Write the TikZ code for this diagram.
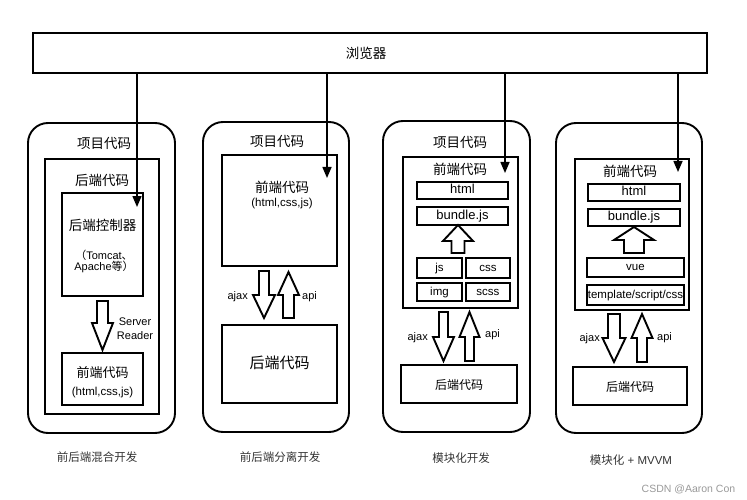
\documentclass[tikz,border=0pt]{standalone}
\usepackage{fontspec}
\setmainfont{Liberation Sans}
\newfontfamily\cjk{Noto Sans CJK SC}
\usetikzlibrary{positioning, arrows.meta}

\definecolor{captxt}{HTML}{333333}
\definecolor{marktxt}{HTML}{999999}

% block arrow: x, tail, head base, tip, shaft half width, head half width
\newcommand{\blkarrow}[6]{%
  \draw[blk] (#1-#5,#2) -- (#1+#5,#2) -- (#1+#5,#3) -- (#1+#6,#3)
    -- (#1,#4) -- (#1-#6,#3) -- (#1-#5,#3) -- cycle;}

\begin{document}
\begin{tikzpicture}[x=1pt, y=-1pt,
    box/.style={draw, line width=1.9pt, inner sep=0pt, align=center},
    panel/.style={draw, line width=1.9pt, rounded corners=20pt},
    flow/.style={-{Triangle[length=11pt,width=9pt]}, line width=1.5pt},
    blk/.style={draw, line width=1.9pt, fill=white, line join=miter},
    zh/.style={inner sep=0pt, font=\cjk\fontsize{13.5}{15}\selectfont},
    txt/.style={inner sep=0pt, align=center, font=\fontsize{11}{11.5}\selectfont},
    code/.style={box, text height=1.6ex, text depth=0.3ex, font=\fontsize{13}{15}\selectfont},
    small/.style={box, text height=1.6ex, text depth=0.3ex, font=\fontsize{11.5}{13}\selectfont},
    caption/.style={inner sep=0pt, text=captxt, font=\fontsize{11.5}{13}\selectfont}]
  \useasboundingbox (0,0) rectangle (747,500);

  % browser
  \node[box, line width=2pt, minimum width=674pt, minimum height=40pt] (browser) at (370,53) {};
  \node[zh] (browserlbl) at (366,53) {浏览器};

  % mixed
  \node[panel, minimum width=147pt, minimum height=310pt] (proj1) at (101.5,278) {};
  \node[zh] (proj1lbl) at (104,143) {项目代码};
  \node[box, minimum width=114pt, minimum height=255pt] (back1) at (102,286.5) {};
  \node[zh] (back1lbl) at (102,180) {后端代码};
  \node[box, minimum width=81pt, minimum height=103pt] (ctrl) at (102.5,244.5) {};
  \node[zh] (ctrllbl) at (102.5,225) {后端控制器};
  \node[txt] (ctrlsub) at (104,261.5) {{\cjk （}Tomcat{\cjk 、}\\Apache{\cjk 等）}};
  \blkarrow{102.5}{301}{323}{350}{5.5}{10.5}
  \node[txt, font=\fontsize{11}{14}\selectfont] (srv) at (135,329) {Server\\Reader};
  \node[box, minimum width=81pt, minimum height=52pt] (front1) at (102.5,379) {};
  \node[zh, font=\cjk\fontsize{13}{15}\selectfont] (front1lbl) at (102.5,373) {前端代码};
  \node[txt, font=\fontsize{11.5}{13}\selectfont] (front1sub) at (102.5,393) {(html,css,js)};

  % separated
  \node[panel, minimum width=146pt, minimum height=310pt] (proj2) at (276,277) {};
  \node[zh] (proj2lbl) at (277,141) {项目代码};
  \node[box, minimum width=115pt, minimum height=111pt] (front2) at (279.5,210.5) {};
  \node[zh] (front2lbl) at (282,187) {前端代码};
  \node[txt, font=\fontsize{11.5}{13}\selectfont] (front2sub) at (282,204) {(html,css,js)};
  \blkarrow{264}{271}{295}{318}{5}{11}
  \blkarrow{288.5}{318}{295}{272}{5.5}{10.5}
  \node[txt, anchor=east] (ajax2) at (248,297) {ajax};
  \node[txt, anchor=west] (api2) at (302,297) {api};
  \node[box, minimum width=115pt, minimum height=78pt] (back2) at (279.5,364) {};
  \node[zh, font=\cjk\fontsize{15}{17}\selectfont] (back2lbl) at (279.5,363) {后端代码};

  % modular
  \node[panel, minimum width=147pt, minimum height=311pt] (proj3) at (456.5,276.5) {};
  \node[zh] (proj3lbl) at (460,142) {项目代码};
  \node[box, minimum width=115pt, minimum height=151pt] (front3) at (460.5,232.5) {};
  \node[zh] (front3lbl) at (460,169) {前端代码};
  \node[code, minimum width=91pt, minimum height=17pt] (html3) at (462.5,190.5) {html};
  \node[code, minimum width=91pt, minimum height=18pt, below=6pt of html3] (bundle3) {bundle.js};
  \blkarrow{458}{253}{241}{225}{6.5}{15}
  \node[small, minimum width=45pt, minimum height=20pt] (js3) at (439.5,268) {js};
  \node[small, minimum width=44pt, minimum height=20pt, right=2pt of js3] (css3) {css};
  \node[small, minimum width=45pt, minimum height=18pt, below=3pt of js3] (img3) {img};
  \node[small, minimum width=44pt, minimum height=18pt, below=3pt of css3] (scss3) {scss};
  \blkarrow{443.5}{312}{337}{361}{4.5}{10.5}
  \blkarrow{469.5}{361}{337}{312}{4.5}{10}
  \node[txt, anchor=east] (ajax3) at (428,338) {ajax};
  \node[txt, anchor=west] (api3) at (485,335) {api};
  \node[box, minimum width=116pt, minimum height=38pt] (back3) at (459,384) {};
  \node[zh, font=\cjk\fontsize{12}{14}\selectfont] (back3lbl) at (459,385) {后端代码};

  % modular + mvvm
  \node[panel, minimum width=146pt, minimum height=310pt] (proj4) at (629,278) {};
  \node[box, minimum width=114pt, minimum height=151pt] (front4) at (632,234.5) {};
  \node[zh] (front4lbl) at (630,171) {前端代码};
  \node[code, minimum width=92pt, minimum height=17pt] (html4) at (634,192.5) {html};
  \node[code, minimum width=92pt, minimum height=17pt, below=6pt of html4] (bundle4) {bundle.js};
  \blkarrow{634}{253}{240}{227}{10}{20}
  \node[small, minimum width=97pt, minimum height=19pt] (vue4) at (635.5,267.5) {vue};
  \node[small, minimum width=97pt, minimum height=20pt, below=6pt of vue4] (tpl4) {template/script/css};
  \blkarrow{614}{314}{338}{362}{6}{11.5}
  \blkarrow{642}{362}{338}{314}{5}{10.5}
  \node[txt, anchor=east] (ajax4) at (600,339) {ajax};
  \node[txt, anchor=west] (api4) at (657,338) {api};
  \node[box, minimum width=114pt, minimum height=38pt] (back4) at (630,386) {};
  \node[zh, font=\cjk\fontsize{12}{14}\selectfont] (back4lbl) at (630,387) {后端代码};

  % requests from the browser
  \coordinate (tip1) at (137,207);
  \coordinate (tip2) at (327,178);
  \coordinate (tip3) at (505,173);
  \coordinate (tip4) at (678,172);
  \foreach \t in {tip1,tip2,tip3,tip4}
    \draw[flow] (browser.south -| \t) -- (\t);

  % captions
  \node[caption] (cap1) at (97,457) {\cjk 前后端混合开发};
  \node[caption] (cap2) at (280,457) {\cjk 前后端分离开发};
  \node[caption] (cap3) at (461,458) {\cjk 模块化开发};
  \node[caption] (cap4) at (631,460) {{\cjk 模块化} + MVVM};
  \node[inner sep=0pt, text=marktxt, font=\fontsize{10.5}{12}\selectfont] (mark) at (688.5,489) {CSDN @Aaron Con};
\end{tikzpicture}
\end{document}
